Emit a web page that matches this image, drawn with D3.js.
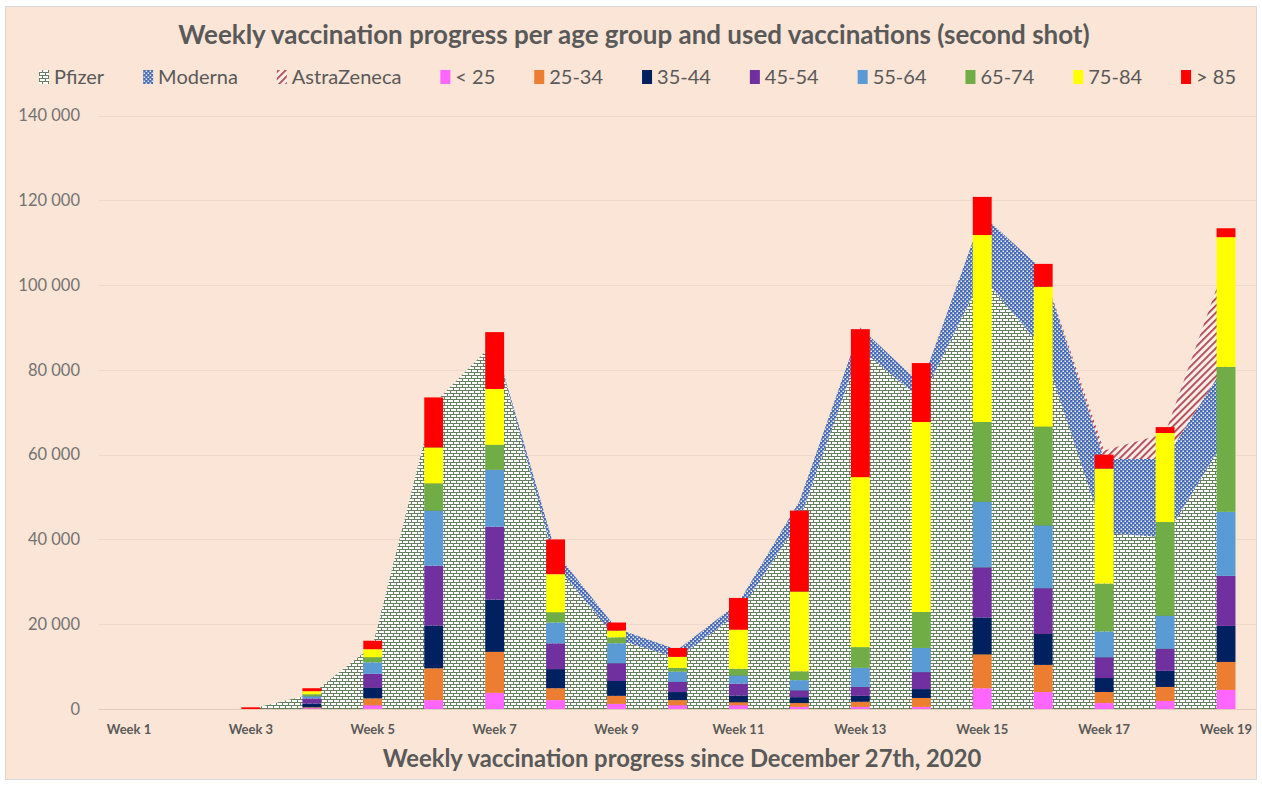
<!DOCTYPE html>
<html>
<head>
<meta charset="utf-8">
<script src="https://cdn.jsdelivr.net/npm/d3@7"></script>
<style>
  body { margin: 0; background: #fff; }
  text { font-family: Lato, "Open Sans", sans-serif; }
</style>
</head>
<body>
<div id="chart"></div>
<script>
var weeks = d3.range(1, 20).map(function(i) { return "Week " + i; });

var ageGroups = ["< 25", "25-34", "35-44", "45-54", "55-64", "65-74", "75-84", "> 85"];
var ageColors = ["#ff66ff", "#ed7d31", "#002060", "#7030a0", "#5b9bd5", "#70ad47", "#ffff00", "#ff0000"];

// second shots per age group, one value per week
var under25 = [0, 0, 0, 200, 900, 2100, 3800, 2100, 1200, 900, 900, 500, 500, 500, 4900, 4000, 1400, 1900, 4500];
var age25_34 = [0, 0, 0, 200, 1600, 7500, 9700, 2800, 1900, 1200, 700, 900, 1200, 2100, 8000, 6400, 2600, 3300, 6600];
var age35_44 = [0, 0, 0, 900, 2500, 10100, 12300, 4500, 3500, 1900, 1600, 1400, 1400, 2100, 8700, 7300, 3300, 3800, 8500];
var age45_54 = [0, 0, 0, 1200, 3300, 14100, 17200, 6100, 4200, 2400, 2800, 1600, 2100, 4000, 11800, 10800, 4900, 5200, 11800];
var age55_64 = [0, 0, 0, 500, 2700, 13000, 13400, 4900, 4700, 2400, 1900, 2400, 4500, 5700, 15500, 14800, 6100, 7800, 15100];
var age65_74 = [0, 0, 0, 500, 1200, 6400, 5900, 2400, 1400, 900, 1600, 2100, 4900, 8500, 18800, 23300, 11300, 22100, 34200];
var age75_84 = [0, 0, 0, 700, 1900, 8500, 13200, 9000, 1600, 2600, 9200, 18800, 40100, 44800, 44100, 33000, 27100, 21000, 30600];
var over85 = [0, 0, 400, 700, 2000, 11800, 13400, 8200, 1900, 2100, 7500, 19100, 34900, 13900, 9000, 5400, 3300, 1400, 2100];
var ageSeries = [under25, age25_34, age35_44, age45_54, age55_64, age65_74, age75_84, over85];

// used vaccines per week
var vaccines = ["Pfizer", "Moderna", "AstraZeneca"];
var pfizer = [0, 0, 0, 3500, 15000, 72000, 86500, 34000, 16500, 12000, 22500, 44500, 85000, 73000, 102000, 85000, 41500, 40500, 64000];
var moderna = [0, 0, 0, 0, 0, 0, 0, 3000, 2500, 2000, 2500, 4500, 5000, 3500, 14500, 18500, 17500, 18500, 17500];
var astrazeneca = [0, 0, 0, 0, 0, 0, 0, 0, 0, 0, 0, 0, 0, 0, 0, 0, 2000, 6000, 24000];
var vaccineSeries = [pfizer, moderna, astrazeneca];

var yTicks = [0, 20000, 40000, 60000, 80000, 100000, 120000, 140000];

var svg_dx = 1262,
  svg_dy = 785,
  plot = { left: 98.5, right: 1256.5, top: 115.5, bottom: 709 };

var svg = d3.select("#chart")
  .append("svg")
  .attr("width", svg_dx)
  .attr("height", svg_dy);

var defs = svg.append("defs");

// Pfizer: horizontal brick
var brickLine = "#65805f";
var pBrick = defs.append("pattern")
  .attr("id", "pat_pfizer")
  .attr("patternUnits", "userSpaceOnUse")
  .attr("width", 6).attr("height", 6);
pBrick.append("rect").attr("width", 6).attr("height", 6).attr("fill", "#ffffff");
pBrick.append("rect").attr("y", 0).attr("width", 6).attr("height", 1).attr("fill", brickLine);
pBrick.append("rect").attr("y", 3).attr("width", 6).attr("height", 1).attr("fill", brickLine);
pBrick.append("rect").attr("x", 0).attr("y", 1).attr("width", 1).attr("height", 2).attr("fill", brickLine);
pBrick.append("rect").attr("x", 3).attr("y", 4).attr("width", 1).attr("height", 2).attr("fill", brickLine);

// Moderna: blue grid with staggered white dots
var pCheck = defs.append("pattern")
  .attr("id", "pat_moderna")
  .attr("patternUnits", "userSpaceOnUse")
  .attr("width", 4).attr("height", 4);
pCheck.append("rect").attr("width", 4).attr("height", 4).attr("fill", "#4a6bb5");
pCheck.append("rect").attr("x", 0.5).attr("y", 0.5).attr("width", 1.5).attr("height", 1.5).attr("fill", "#eef2fb");
pCheck.append("rect").attr("x", 2.5).attr("y", 2.5).attr("width", 1.5).attr("height", 1.5).attr("fill", "#eef2fb");

// AstraZeneca: wide upward diagonal
var pDiag = defs.append("pattern")
  .attr("id", "pat_az")
  .attr("patternUnits", "userSpaceOnUse")
  .attr("width", 5).attr("height", 5)
  .attr("patternTransform", "rotate(45)");
pDiag.append("rect").attr("width", 5).attr("height", 5).attr("fill", "#fbeee8");
pDiag.append("rect").attr("width", 1.8).attr("height", 5).attr("fill", "#ad4550");

var vaccineFills = ["url(#pat_pfizer)", "url(#pat_moderna)", "url(#pat_az)"];

// chart background
svg.append("rect")
  .attr("x", 5.5).attr("y", 6.5)
  .attr("width", 1251).attr("height", 773)
  .attr("fill", "#fbe5d6")
  .attr("stroke", "#d9d9d9");

var xScale = d3.scaleBand()
  .domain(weeks)
  .range([plot.left, plot.right])
  .paddingInner(0.69)
  .paddingOuter(0.345);

var yScale = d3.scaleLinear()
  .domain([0, 140000])
  .range([plot.bottom, plot.top]);

var fmt = d3.formatLocale({ decimal: ".", thousands: " ", grouping: [3], currency: ["", ""] }).format(",");

// gridlines
svg.append("g")
  .selectAll("line")
  .data(yTicks)
  .enter()
  .append("line")
  .attr("x1", plot.left)
  .attr("x2", plot.right)
  .attr("y1", function(d) { return Math.round(yScale(d)) + 0.5; })
  .attr("y2", function(d) { return Math.round(yScale(d)) + 0.5; })
  .attr("stroke", function(d) { return d === 0 ? "#e3cbbb" : "#f0d9ca"; })
  .attr("stroke-width", 1);

// stacked areas for vaccines
var vRows = weeks.map(function(w, i) {
  var r = { week: w };
  vaccines.forEach(function(v, k) { r[v] = vaccineSeries[k][i]; });
  return r;
});
var vStack = d3.stack().keys(vaccines)(vRows);

var area = d3.area()
  .x(function(d) { return xScale(d.data.week) + xScale.bandwidth() / 2; })
  .y0(function(d) { return yScale(d[0]); })
  .y1(function(d) { return yScale(d[1]); });

svg.append("g")
  .selectAll("path")
  .data(vStack)
  .enter()
  .append("path")
  .attr("d", area)
  .attr("fill", function(d, i) { return vaccineFills[i]; });

// stacked bars for age groups
var aRows = weeks.map(function(w, i) {
  var r = { week: w };
  ageGroups.forEach(function(a, k) { r[a] = ageSeries[k][i]; });
  return r;
});
var aStack = d3.stack().keys(ageGroups)(aRows);

svg.append("g")
  .selectAll("g")
  .data(aStack)
  .enter()
  .append("g")
  .attr("fill", function(d, i) { return ageColors[i]; })
  .selectAll("rect")
  .data(function(d) { return d; })
  .enter()
  .append("rect")
  .attr("x", function(d) { return xScale(d.data.week); })
  .attr("width", xScale.bandwidth())
  .attr("y", function(d) { return yScale(d[1]); })
  .attr("height", function(d) { return yScale(d[0]) - yScale(d[1]); });

// axes
var axis_y = d3.axisLeft(yScale).tickValues(yTicks).tickFormat(fmt).tickSize(0).tickPadding(0);
var gy = svg.append("g")
  .attr("transform", "translate(80,0)")
  .call(axis_y);
gy.select(".domain").remove();
gy.selectAll("text")
  .attr("font-family", "Lato, sans-serif")
  .attr("font-size", 16.5)
  .attr("fill", "#737373");

var axis_x = d3.axisBottom(xScale)
  .tickValues(weeks.filter(function(d, i) { return i % 2 === 0; }))
  .tickSize(0)
  .tickPadding(16);
var gx = svg.append("g")
  .attr("transform", "translate(0," + plot.bottom + ")")
  .call(axis_x);
gx.select(".domain").remove();
gx.selectAll("text")
  .attr("font-family", "Lato, sans-serif")
  .attr("font-size", 13)
  .attr("font-weight", "bold")
  .attr("fill", "#595959");

// scale a text to a target width
function fitWidth(sel, w) {
  var cur = sel.node().getComputedTextLength();
  var fs = parseFloat(sel.attr("font-size"));
  sel.attr("font-size", fs * w / cur);
}

var title = svg.append("text")
  .attr("x", 634)
  .attr("y", 44)
  .attr("text-anchor", "middle")
  .attr("font-size", 22)
  .attr("font-weight", "bold")
  .attr("fill", "#595959")
  .text("Weekly vaccination progress per age group and used vaccinations (second shot)");
fitWidth(title, 912);

var xTitle = svg.append("text")
  .attr("x", 682)
  .attr("y", 767)
  .attr("text-anchor", "middle")
  .attr("font-size", 22)
  .attr("font-weight", "bold")
  .attr("fill", "#595959")
  .text("Weekly vaccination progress since December 27th, 2020");
fitWidth(xTitle, 599);

// legend
var legendItems = vaccines.map(function(v, i) { return { name: v, fill: vaccineFills[i] }; })
  .concat(ageGroups.map(function(a, i) { return { name: a, fill: ageColors[i] }; }));

var legend = svg.append("g");
var items = legend.selectAll("g")
  .data(legendItems)
  .enter()
  .append("g");
items.append("rect")
  .attr("y", 70)
  .attr("width", 10)
  .attr("height", 14)
  .attr("fill", function(d) { return d.fill; });
items.append("text")
  .attr("x", 15)
  .attr("y", 84)
  .attr("font-size", 20)
  .attr("fill", "#595959")
  .text(function(d) { return d.name; });

var widths = [];
items.selectAll("text").each(function() { widths.push(15 + this.getComputedTextLength()); });
var gap = (1236 - 39 - d3.sum(widths)) / (widths.length - 1);
var cx = 39;
items.attr("transform", function(d, i) {
  var t = "translate(" + cx + ",0)";
  cx += widths[i] + gap;
  return t;
});
</script>
</body>
</html>
